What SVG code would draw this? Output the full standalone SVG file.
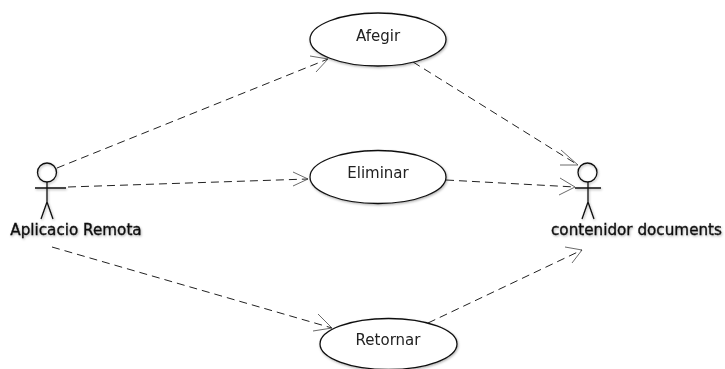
<svg xmlns="http://www.w3.org/2000/svg" width="725" height="369" viewBox="0 0 725 369">
<style>
.s{fill:none;stroke:#111;stroke-width:1.3}
.u{fill:#fff;stroke:#111;stroke-width:1.3}
.c{fill:none;stroke:#222;stroke-width:1;stroke-dasharray:8 5}
.h{fill:none;stroke:#444;stroke-width:.8}
text{font-family:"DejaVu Sans",sans-serif;font-size:15px;fill:#222;text-anchor:middle}
.a{font-size:15.200px;fill:#111;stroke:#111;stroke-width:.35}
</style>
<defs>
<filter id="sh" x="-10%" y="-30%" width="120%" height="170%"><feDropShadow dx=".8" dy="1.2" stdDeviation=".8" flood-color="#000" flood-opacity=".3"/></filter>
</defs>
<rect width="725" height="369" fill="#fff"/>
<g id="connectors">
<path class="c" d="M57 168L328 59"/>
<path class="h" d="M328 59L310 56M328 59L316 72"/>
<path class="c" d="M68 187L308 179"/>
<path class="h" d="M308 179L293 172M308 179L293 186"/>
<path class="c" d="M52 247L332 328"/>
<path class="h" d="M332 328L318 314M332 328L313 331"/>
<path class="c" d="M413 62L578 165"/>
<path class="h" d="M578 165L561 150M578 165L560 165"/>
<path class="c" d="M446 180L575 187"/>
<path class="h" d="M575 187L560 178M575 187L559 195"/>
<path class="c" d="M428 323L582 250"/>
<path class="h" d="M582 250L565 247M582 250L572 263"/>
</g>
<g id="afegir" filter="url(#sh)"><ellipse class="u" cx="378" cy="39.500" rx="68" ry="26.500"/><text x="378" y="41">Afegir</text></g>
<g id="eliminar" filter="url(#sh)"><ellipse class="u" cx="378" cy="177" rx="68" ry="26.500"/><text x="378" y="178">Eliminar</text></g>
<g id="retornar" filter="url(#sh)"><ellipse class="u" cx="388.500" cy="344" rx="68.500" ry="25.500"/><text x="388" y="345">Retornar</text></g>
<g id="aplicacio-remota" filter="url(#sh)"><circle class="s" cx="47" cy="172.500" r="9.500"/><path class="s" d="M47 182V202M35 188H66M47 202L41 219M47 202L53 219"/><text class="a" x="76" y="235">Aplicacio Remota</text></g>
<g id="contenidor-documents" filter="url(#sh)"><circle class="s" cx="587.500" cy="172.500" r="9.500"/><path class="s" d="M588 182V202M575 188H601M588 202L582 219M588 202L594 219"/><text class="a" x="636.500" y="235">contenidor documents</text></g>
</svg>
